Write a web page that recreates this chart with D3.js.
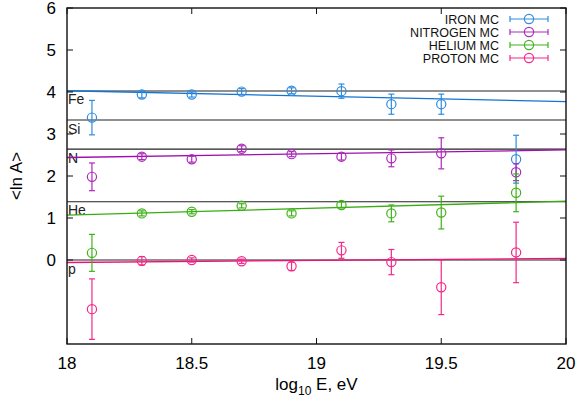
<!DOCTYPE html>
<html>
<head>
<meta charset="utf-8">
<script src="https://cdn.jsdelivr.net/npm/d3@7"></script>
<style>
  body { margin: 0; background: #fff; }
  svg { font-family: "Liberation Sans", Arial, sans-serif; }
</style>
</head>
<body>
<div id="chart"></div>
<script>
var logE = [18.1, 18.3, 18.5, 18.7, 18.9, 19.1, 19.3, 19.5, 19.8];

var ironMean     = [3.39, 3.94, 3.94, 4.01, 4.03, 4.02, 3.71, 3.71, 2.40];
var ironErr      = [0.41, 0.08, 0.06, 0.07, 0.07, 0.17, 0.24, 0.24, 0.57];
var nitrogenMean = [1.98, 2.46, 2.40, 2.65, 2.52, 2.46, 2.42, 2.54, 2.09];
var nitrogenErr  = [0.33, 0.07, 0.07, 0.07, 0.06, 0.08, 0.20, 0.37, 0.20];
var heliumMean   = [0.17, 1.11, 1.15, 1.29, 1.11, 1.31, 1.11, 1.13, 1.60];
var heliumErr    = [0.44, 0.06, 0.05, 0.05, 0.06, 0.07, 0.20, 0.39, 0.45];
var protonMean   = [-1.17, -0.02, 0.00, -0.03, -0.15, 0.23, -0.05, -0.65, 0.18];
var protonErr    = [0.72, 0.10, 0.05, 0.05, 0.10, 0.19, 0.30, 0.65, 0.72];

// straight-line fits, value at log E = 18 and at 20
var ironFit     = [4.03, 3.77];
var nitrogenFit = [2.44, 2.62];
var heliumFit   = [1.07, 1.40];
var protonFit   = [-0.06, 0.04];

var elementNames = ['Fe', 'Si', 'N', 'He', 'p'];
var elementLnA   = [Math.log(56), Math.log(28), Math.log(14), Math.log(4), 0];

var xTicks = [18, 18.5, 19, 19.5, 20];
var yTicks = [0, 1, 2, 3, 4, 5, 6];

var series = [
    { name: 'IRON MC',     mean: ironMean,     err: ironErr,     fit: ironFit,     color: '#2f8ce0', line: '#1274d4' },
    { name: 'NITROGEN MC', mean: nitrogenMean, err: nitrogenErr, fit: nitrogenFit, color: '#ad2aba', line: '#a00fae' },
    { name: 'HELIUM MC',   mean: heliumMean,   err: heliumErr,   fit: heliumFit,   color: '#3fb21a', line: '#38ad10' },
    { name: 'PROTON MC',   mean: protonMean,   err: protonErr,   fit: protonFit,   color: '#f5288a', line: '#f0107a' }
];

var W = 579, H = 403;
var plotL = 67, plotR = 566, plotT = 8, plotB = 344;

var svg = d3.select('#chart').append('svg')
    .attr('width', W).attr('height', H);

var x = d3.scaleLinear().domain([18, 20]).range([plotL, plotR]);
var y = d3.scaleLinear().domain([-2, 6]).range([plotB, plotT]);

// element reference lines
var refs = svg.append('g');
elementLnA.forEach(function(v, i) {
    refs.append('line')
        .attr('x1', plotL).attr('x2', plotR)
        .attr('y1', y(v)).attr('y2', y(v))
        .attr('stroke', '#222').attr('stroke-width', 1.1);
    refs.append('text')
        .attr('x', plotL + 1).attr('y', y(v) + 13.5)
        .attr('font-size', 14).attr('fill', '#222')
        .text(elementNames[i]);
});

// fit lines
series.forEach(function(s) {
    svg.append('line')
        .attr('x1', x(18)).attr('x2', x(20))
        .attr('y1', y(s.fit[0])).attr('y2', y(s.fit[1]))
        .attr('stroke', s.line).attr('stroke-width', 1.3);
});

// points with error bars
function drawPoint(g, cx, cy, lo, hi, color) {
    g.append('line').attr('x1', cx).attr('x2', cx).attr('y1', lo).attr('y2', hi)
        .attr('stroke', color).attr('stroke-width', 1.2);
    g.append('line').attr('x1', cx - 3).attr('x2', cx + 3).attr('y1', lo).attr('y2', lo)
        .attr('stroke', color).attr('stroke-width', 1.2);
    g.append('line').attr('x1', cx - 3).attr('x2', cx + 3).attr('y1', hi).attr('y2', hi)
        .attr('stroke', color).attr('stroke-width', 1.2);
    g.append('circle').attr('cx', cx).attr('cy', cy).attr('r', 4.6)
        .attr('fill', 'none').attr('stroke', color).attr('stroke-width', 1.2);
}

series.forEach(function(s) {
    var g = svg.append('g');
    logE.forEach(function(e, i) {
        drawPoint(g, x(e), y(s.mean[i]), y(s.mean[i] - s.err[i]), y(s.mean[i] + s.err[i]), s.color);
    });
});

// frame and ticks (inward, mirrored like gnuplot)
var axes = svg.append('g').attr('stroke', '#111').attr('stroke-width', 1);
xTicks.forEach(function(t) {
    axes.append('line').attr('x1', x(t)).attr('x2', x(t)).attr('y1', plotB).attr('y2', plotB - 6);
    axes.append('line').attr('x1', x(t)).attr('x2', x(t)).attr('y1', plotT).attr('y2', plotT + 6);
});
yTicks.forEach(function(t) {
    axes.append('line').attr('x1', plotL).attr('x2', plotL + 6).attr('y1', y(t)).attr('y2', y(t));
    axes.append('line').attr('x1', plotR).attr('x2', plotR - 6).attr('y1', y(t)).attr('y2', y(t));
});
svg.append('rect')
    .attr('x', plotL).attr('y', plotT)
    .attr('width', plotR - plotL).attr('height', plotB - plotT)
    .attr('fill', 'none').attr('stroke', '#111').attr('stroke-width', 1.4);

svg.append('g').selectAll('text').data(xTicks).join('text')
    .attr('x', function(d) { return x(d); })
    .attr('y', plotB + 25)
    .attr('text-anchor', 'middle')
    .attr('font-size', 17)
    .text(function(d) { return d; });

svg.append('g').selectAll('text').data(yTicks).join('text')
    .attr('x', plotL - 11)
    .attr('y', function(d) { return y(d) + 6; })
    .attr('text-anchor', 'end')
    .attr('font-size', 17)
    .text(function(d) { return d; });

// axis titles
var xl = svg.append('text')
    .attr('x', (plotL + plotR) / 2).attr('y', 390)
    .attr('text-anchor', 'middle').attr('font-size', 17);
xl.append('tspan').text('log');
xl.append('tspan').attr('font-size', 12).attr('dy', 5).text('10');
xl.append('tspan').attr('dy', -5).text(' E, eV');

svg.append('text')
    .attr('transform', 'translate(22,' + y(2) + ') rotate(-90)')
    .attr('text-anchor', 'middle').attr('font-size', 17)
    .text('<ln A>');

// legend
var legend = svg.append('g');
series.forEach(function(s, i) {
    var ly = 19 + i * 13;
    legend.append('text')
        .attr('x', 499).attr('y', ly + 4.5)
        .attr('text-anchor', 'end').attr('font-size', 12.5).attr('fill', '#111')
        .text(s.name);
    legend.append('line').attr('x1', 510).attr('x2', 548).attr('y1', ly).attr('y2', ly)
        .attr('stroke', s.color).attr('stroke-width', 1.2);
    legend.append('line').attr('x1', 510).attr('x2', 510).attr('y1', ly - 3).attr('y2', ly + 3)
        .attr('stroke', s.color).attr('stroke-width', 1.2);
    legend.append('line').attr('x1', 548).attr('x2', 548).attr('y1', ly - 3).attr('y2', ly + 3)
        .attr('stroke', s.color).attr('stroke-width', 1.2);
    legend.append('circle').attr('cx', 529).attr('cy', ly).attr('r', 4.6)
        .attr('fill', 'none').attr('stroke', s.color).attr('stroke-width', 1.2);
});
</script>
</body>
</html>
